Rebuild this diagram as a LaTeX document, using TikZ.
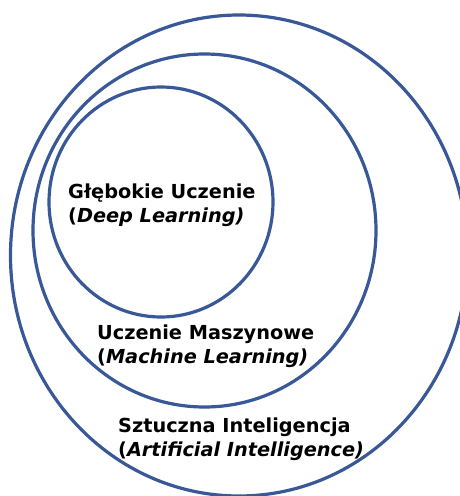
\documentclass[tikz,border=0pt]{standalone}
\usepackage{fontspec}
\setmainfont{DejaVu Sans}[BoldFont={DejaVu Sans Bold},ItalicFont={DejaVu Sans Oblique},BoldItalicFont={DejaVu Sans Bold Oblique}]
\definecolor{ringblue}{RGB}{56,88,152}
\tikzset{
  ring/.style={draw=ringblue,line width=3.2pt},
  label/.style={anchor=base west,align=left,inner sep=0pt,font=\fontsize{19.3}{24.2}\selectfont\bfseries}
}
\begin{document}
\begin{tikzpicture}[x=1pt,y=-1pt]
\useasboundingbox (0,0) rectangle (460,496);
\clip (0,0) rectangle (460,496);
\fill[white] (0,0) rectangle (460,496);
\draw[ring] (239,255.5) ellipse [x radius=228.5pt, y radius=240.5pt];
\draw[ring] (204.5,230.5) ellipse [x radius=171.5pt, y radius=176.5pt];
\draw[ring] (161,202) ellipse [x radius=112pt, y radius=115pt];
\node[label] (dl) at (68,222.5) {Głębokie Uczenie\\(\textit{Deep Learning)}};
\node[label] (ml) at (97,363.5) {Uczenie Maszynowe\\(\textit{Machine Learning)}};
\node[label] (ai) at (118,456.5) {Sztuczna Inteligencja\\(\textit{Artificial Intelligence)}};
\end{tikzpicture}
\end{document}
